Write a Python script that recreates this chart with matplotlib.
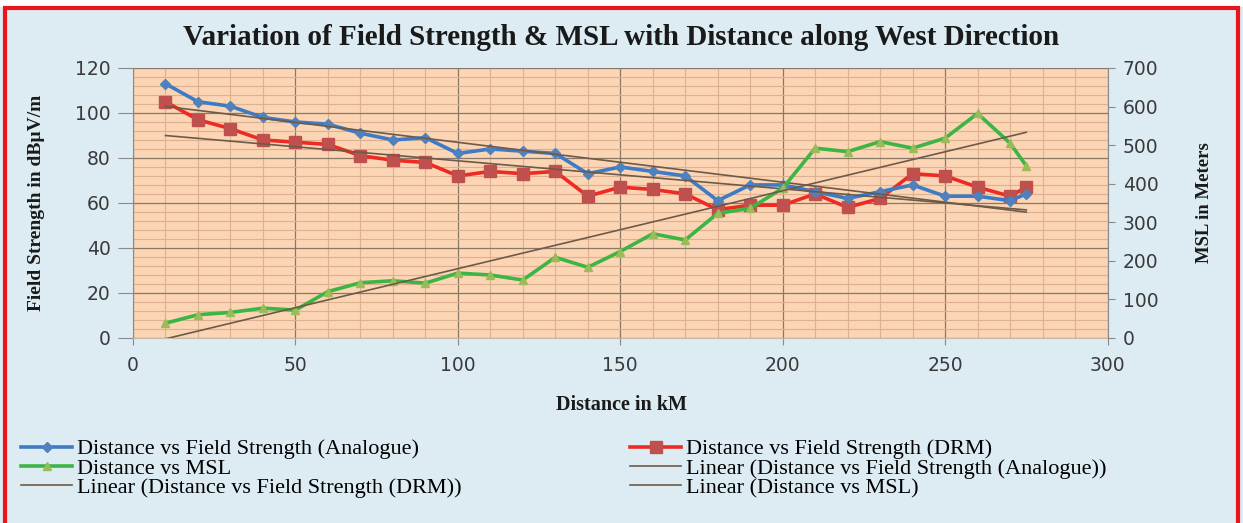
import numpy as np
import matplotlib.pyplot as plt
from matplotlib.patches import Rectangle
from matplotlib.ticker import MultipleLocator

# distance (km) along west direction
distance = [10, 20, 30, 40, 50, 60, 70, 80, 90, 100, 110, 120, 130, 140, 150,
            160, 170, 180, 190, 200, 210, 220, 230, 240, 250, 260, 270, 275]
# field strength in dBuV/m
fs_analogue = [113, 105, 103, 98, 96, 95, 91, 88, 89, 82, 84, 83, 82, 73, 76,
               74, 72, 61, 68, 68, 65, 62, 65, 68, 63, 63, 61, 64]
fs_drm = [105, 97, 93, 88, 87, 86, 81, 79, 78, 72, 74, 73, 74, 63, 67,
          66, 64, 57, 59, 59, 64, 58, 62, 73, 72, 67, 63, 67]
# mean sea level in metres
msl = [38, 60, 66, 77, 72, 120, 143, 148, 142, 168, 163, 150, 209, 183, 224,
       270, 254, 323, 336, 388, 492, 483, 509, 492, 518, 582, 505, 446]

bg = '#dcecf2'
plot_bg = '#fcd5b5'
trend_col = '#6e5a48'
serif = 'Liberation Serif'

fig = plt.figure(figsize=(12.43, 5.23), dpi=100, facecolor=bg)
# white strip on top, then the red frame
fig.patches.append(Rectangle((0, 0.986), 1, 0.014, transform=fig.transFigure,
                             facecolor='white', edgecolor='none', zorder=9))
fig.patches.append(Rectangle((0.004, -0.01), 0.992, 0.994, transform=fig.transFigure,
                             fill=False, edgecolor='#e8151b', linewidth=3, zorder=10))

ax = fig.add_axes([0.107, 0.354, 0.784, 0.516])
ax.set_facecolor(plot_bg)
ax2 = ax.twinx()

x = np.array(distance, dtype=float)

la, = ax.plot(x, fs_analogue, color='#3d7bc6', lw=2.6, marker='D', ms=5,
              mfc='#4f81bd', mec='#4f81bd', zorder=4,
              label='Distance vs Field Strength (Analogue)')
ld, = ax.plot(x, fs_drm, color='#ee2a22', lw=2.6, marker='s', ms=8,
              mfc='#c0504d', mec='#c0504d', zorder=3,
              label='Distance vs Field Strength (DRM)')
lm, = ax2.plot(x, msl, color='#3cb545', lw=2.6, marker='^', ms=6,
               mfc='#9bbb59', mec='#9bbb59', zorder=3,
               label='Distance vs MSL')

# linear trend lines
xt = np.array([x.min(), x.max()])
ta = np.polyval(np.polyfit(x, fs_analogue, 1), xt)
td = np.polyval(np.polyfit(x, fs_drm, 1), xt)
tm = np.polyval(np.polyfit(x, msl, 1), xt)
lta, = ax.plot(xt, ta, color=trend_col, lw=1.2, zorder=5,
               label='Linear (Distance vs Field Strength (Analogue))')
ltd, = ax.plot(xt, td, color=trend_col, lw=1.2, zorder=5,
               label='Linear (Distance vs Field Strength (DRM))')
ltm, = ax2.plot(xt, tm, color=trend_col, lw=1.2, zorder=5,
                label='Linear (Distance vs MSL)')

ax.set_xlim(0, 300)
ax.set_ylim(0, 120)
ax2.set_ylim(0, 700)
ax.xaxis.set_major_locator(MultipleLocator(50))
ax.xaxis.set_minor_locator(MultipleLocator(10))
ax.yaxis.set_major_locator(MultipleLocator(20))
ax.yaxis.set_minor_locator(MultipleLocator(4))
ax2.yaxis.set_major_locator(MultipleLocator(100))

ax.grid(True, which='major', color='#8a7866', lw=0.9)
ax.grid(True, which='minor', color='#dcb090', lw=0.8)
ax.set_axisbelow(True)

for a in (ax, ax2):
    for s in a.spines.values():
        s.set_visible(False)
ax.spines['left'].set_visible(True)
ax.spines['left'].set_color('#8a8a8a')
ax.spines['bottom'].set_visible(True)
ax.spines['bottom'].set_color('#c8b8a8')
ax2.spines['right'].set_visible(True)
ax2.spines['right'].set_color('#8a8a8a')

ax.tick_params(axis='both', which='major', labelsize=13.5, labelcolor='#3a3a3a',
               color='#8a8a8a', length=11, pad=5)
ax.tick_params(axis='x', which='major', length=5, pad=8)
ax.tick_params(axis='both', which='minor', length=0)
ax2.tick_params(axis='y', labelsize=13.5, labelcolor='#3a3a3a', color='#8a8a8a',
                length=5, pad=6)

fig.text(0.5, 0.928, 'Variation of Field Strength & MSL with Distance along West Direction',
         ha='center', va='center', fontsize=21, fontweight='bold', family=serif,
         color='#1a1a1a')
fig.text(0.5, 0.226, 'Distance in kM', ha='center', va='center', fontsize=14.5,
         fontweight='bold', family=serif, color='#1a1a1a')
fig.text(0.029, 0.612, 'Field Strength in dBµV/m', ha='center', va='center',
         rotation=90, fontsize=14, fontweight='bold', family=serif, color='#1a1a1a')
fig.text(0.969, 0.612, 'MSL in Meters', ha='center', va='center',
         rotation=90, fontsize=13.5, fontweight='bold', family=serif, color='#1a1a1a')

handles = [la, lm, ltd, ld, lta, ltm]
fig.legend(handles, [h.get_label() for h in handles], ncol=2,
           loc='upper left', bbox_to_anchor=(0.01, 0.178), frameon=False,
           prop={'family': serif, 'size': 16}, handlelength=2.3,
           handletextpad=0.2, labelspacing=-0.05, columnspacing=7.6,
           borderaxespad=0)

fig.savefig('out.png', dpi=100, facecolor=bg)
